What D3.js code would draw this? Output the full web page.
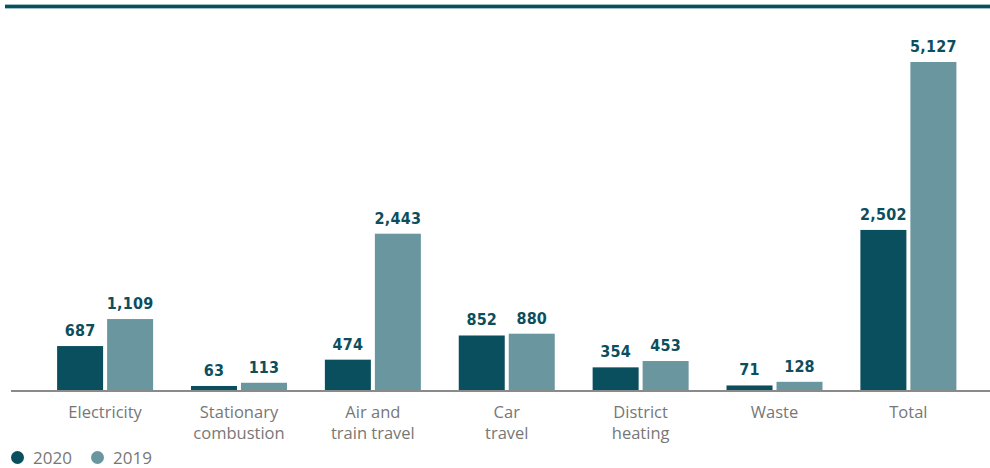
<!DOCTYPE html>
<html>
<head>
<meta charset="utf-8">
<script src="https://cdn.jsdelivr.net/npm/d3@7"></script>
<style>
  body { margin: 0; background: #fff; }
  .val { font-family: "DejaVu Sans Condensed", "DejaVu Sans", sans-serif; font-weight: bold; font-size: 16px; fill: #0b4f5e; letter-spacing: 0.2px; }
  .cat { font-family: "Open Sans", sans-serif; font-size: 16.5px; fill: #777; }
  .leg { font-family: "Open Sans", sans-serif; font-size: 17px; fill: #777; }
</style>
</head>
<body>
<div id="chart"></div>
<script>
// data
var categories = [["Electricity"], ["Stationary", "combustion"], ["Air and", "train travel"], ["Car", "travel"], ["District", "heating"], ["Waste"], ["Total"]];
var values2020 = [687, 63, 474, 852, 354, 71, 2502];
var values2019 = [1109, 113, 2443, 880, 453, 128, 5127];
var seriesNames = ["2020", "2019"];
var colors = ["#0a4f5e", "#6a979f"];

var width = 990, height = 468;
var svg = d3.select("#chart").append("svg").attr("width", width).attr("height", height);

// top rule
svg.append("rect").attr("x", 5).attr("y", 4).attr("width", 985).attr("height", 5).attr("fill", "#9fc0c6");
svg.append("rect").attr("x", 5).attr("y", 5).attr("width", 985).attr("height", 3).attr("fill", "#0a4f5e");

var baseY = 390;
var x = d3.scaleBand().domain(d3.range(categories.length)).range([37.5, 976]).paddingInner(0.31).paddingOuter(0.16);
var y = d3.scaleLinear().domain([0, 5127]).range([baseY, 62]);
var barW = 46, gap = 4;

var series = [values2020, values2019];
series.forEach(function(vals, s) {
   var g = svg.append("g");
   g.selectAll("rect").data(vals).enter().append("rect")
      .attr("x", function(d, i){ return x(i) + x.bandwidth()/2 - barW - gap/2 + s*(barW+gap); })
      .attr("y", function(d){ return y(d); })
      .attr("width", barW)
      .attr("height", function(d){ return baseY - y(d); })
      .attr("fill", colors[s]);
   g.selectAll("text").data(vals).enter().append("text").attr("class", "val")
      .attr("x", function(d, i){ return x(i) + x.bandwidth()/2 - barW/2 - gap/2 + s*(barW+gap); })
      .attr("y", function(d){ return y(d) - 10; })
      .attr("text-anchor", "middle")
      .text(function(d){ return d3.format(",")(d); });
});

// baseline
svg.append("line").attr("x1", 11).attr("x2", 990).attr("y1", baseY + 1).attr("y2", baseY + 1)
   .attr("stroke", "#8a8a8a").attr("stroke-width", 2);

// category labels
categories.forEach(function(lines, i) {
   var t = svg.append("text").attr("class", "cat").attr("text-anchor", "middle")
      .attr("x", x(i) + x.bandwidth()/2).attr("y", 418);
   lines.forEach(function(l, k) {
      t.append("tspan").attr("x", x(i) + x.bandwidth()/2).attr("dy", k ? 21 : 0).text(l);
   });
});

// legend
var legX = [17.5, 97.5];
seriesNames.forEach(function(n, s) {
   svg.append("circle").attr("cx", legX[s]).attr("cy", 457.5).attr("r", 6.5).attr("fill", colors[s]);
   svg.append("text").attr("class", "leg").attr("x", legX[s] + 15.5).attr("y", 463.5).text(n);
});
</script>
</body>
</html>
